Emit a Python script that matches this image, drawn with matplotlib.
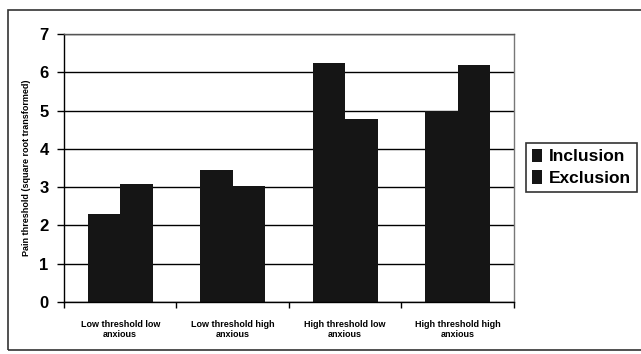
import matplotlib.pyplot as plt
import matplotlib.patches as mpatches
import numpy as np

categories = ["Low threshold low\nanxious", "Low threshold high\nanxious",
              "High threshold low\nanxious", "High threshold high\nanxious"]
inclusion = [2.3, 3.45, 6.23, 5.0]
exclusion = [3.07, 3.02, 4.77, 6.2]
series_names = ["Inclusion", "Exclusion"]

plt.rcParams['font.family'] = ['Liberation Sans', 'DejaVu Sans']
plt.rcParams['font.weight'] = 'bold'

fig = plt.figure(figsize=(6.41, 3.54), dpi=100)
ax = fig.add_axes([0.0998, 0.147, 0.702, 0.757])

x = np.arange(len(categories))
w = 0.29
ax.set_axisbelow(True)
ax.bar(x - w / 2, inclusion, w, color='#151515', label=series_names[0])
ax.bar(x + w / 2, exclusion, w, color='#151515', label=series_names[1])

ax.set_xlim(-0.5, len(categories) - 0.5)
ax.set_ylim(0, 7)
ax.set_yticks(range(0, 8))
ax.yaxis.grid(True, color='black', linewidth=1)

ax.set_xticks(x)
ax.set_xticklabels(categories, fontsize=6.5, fontweight='bold')
ax.tick_params(axis='x', length=0, pad=13)
ax.set_xticks(np.arange(-0.5, len(categories), 1), minor=True)
ax.tick_params(axis='x', which='minor', length=4, width=1, direction='out')
ax.tick_params(axis='y', labelsize=12, length=5, width=1, pad=6)
for lab in ax.get_yticklabels():
    lab.set_fontweight('bold')

for s in ax.spines.values():
    s.set_color('black')
    s.set_linewidth(1)
ax.spines['top'].set_color('#555555')
ax.spines['right'].set_color('#777777')

ax.set_ylabel("Pain threshold (square root transformed)", fontsize=6.5,
              fontweight='bold', labelpad=6)

leg = ax.legend(loc='center', bbox_to_anchor=(0.907, 0.527),
                bbox_transform=fig.transFigure, frameon=True,
                fancybox=False, edgecolor='black', handlelength=0.6,
                handleheight=0.8, handletextpad=0.4, borderpad=0.35,
                labelspacing=0.35, prop={'weight': 'bold', 'size': 12.5})
leg.get_frame().set_linewidth(1.2)

border = mpatches.Rectangle((0.013, 0.012), 0.99, 0.96, transform=fig.transFigure,
                            fill=False, edgecolor='#333333', linewidth=1.2)
fig.patches.append(border)

fig.savefig("out.png", dpi=100)
